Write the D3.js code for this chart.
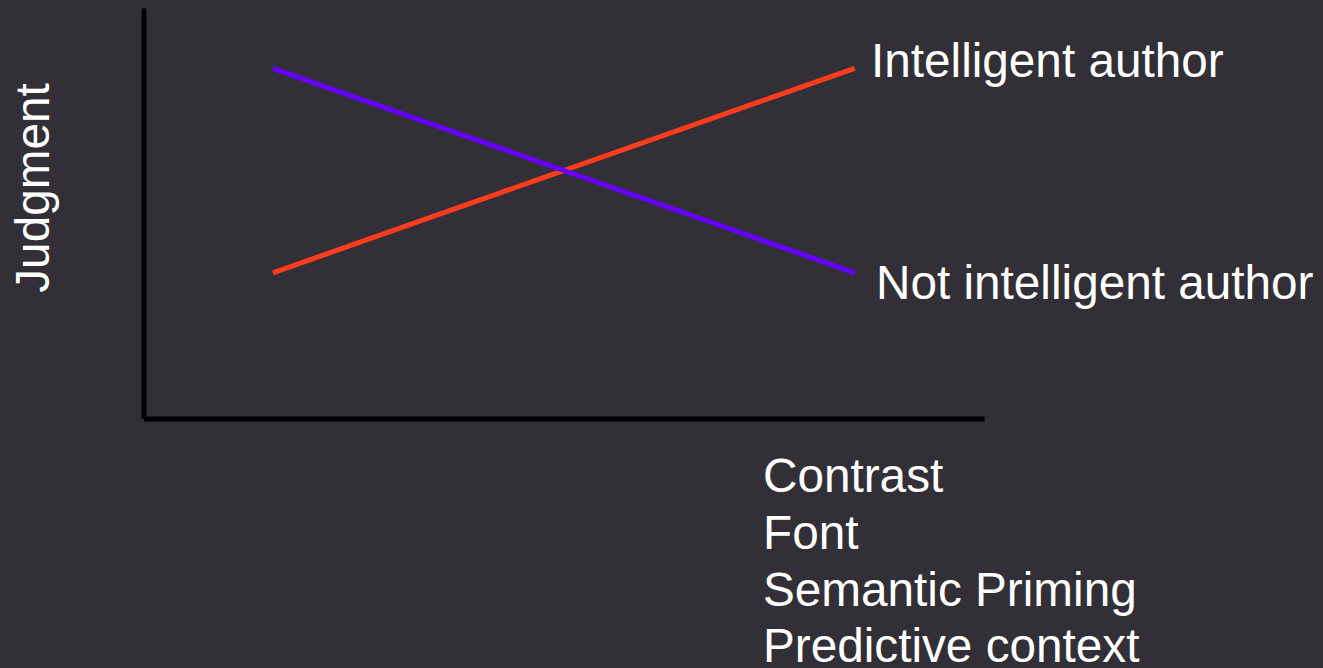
<!DOCTYPE html>
<html>
<head>
<meta charset="utf-8">
<script src="https://cdn.jsdelivr.net/npm/d3@7"></script>
<style>
  html, body { margin: 0; padding: 0; background: #323036; overflow: hidden; }
  svg { display: block; font-family: "Liberation Sans", Arial, sans-serif; }
</style>
</head>
<body>
<div class="chart"></div>
<script>
// data
var levels = ["Low", "High"];
var seriesNames = ["Intelligent author", "Not intelligent author"];
var intelligent = [0.355, 0.853];
var notIntelligent = [0.853, 0.355];
var seriesColors = ["#FF3C1E", "#6600FF"];
var yLabel = "Judgment";
var factors = ["Contrast", "Font", "Semantic Priming", "Predictive context"];

var width = 1323;
var height = 668;
var plotLeft = 143.5, plotRight = 984, plotTop = 8, plotBottom = 418.5;
var fontSize = "47.7px";

var svg = d3.select(".chart")
            .append("svg")
            .attr("width", width)
            .attr("height", height);

svg.append("rect")
   .attr("width", width)
   .attr("height", height)
   .attr("fill", "#323036");

var xScale = d3.scalePoint()
               .domain(levels)
               .range([plotLeft, plotRight])
               .padding(0.2225);
var yScale = d3.scaleLinear()
               .domain([0, 1])
               .range([plotBottom, plotTop]);

var xAxis = d3.axisBottom(xScale).tickValues([]).tickSizeOuter(0);
var yAxis = d3.axisLeft(yScale).tickValues([]).tickSizeOuter(0);

// axes
svg.append("g")
   .attr("id", "y-axis")
   .attr("transform", "translate(" + plotLeft + ",0)")
   .call(yAxis)
   .select(".domain")
   .attr("stroke", "#000")
   .attr("stroke-width", 5);

svg.append("g")
   .attr("id", "x-axis")
   .attr("transform", "translate(0," + plotBottom + ")")
   .call(xAxis)
   .select(".domain")
   .attr("stroke", "#000")
   .attr("stroke-width", 5);

// lines
var line = d3.line()
             .x((d, i) => xScale(levels[i]))
             .y(d => yScale(d));

var series = [intelligent, notIntelligent];
svg.selectAll("path.series")
   .data(series)
   .enter()
   .append("path")
   .attr("class", "series")
   .attr("d", d => line(d))
   .attr("fill", "none")
   .attr("stroke", (d, i) => seriesColors[i])
   .attr("stroke-width", 5);

// line labels at the right end
var labelY = [77, 299];
svg.selectAll("text.series-label")
   .data(seriesNames)
   .enter()
   .append("text")
   .attr("class", "series-label")
   .attr("x", (d, i) => i === 0 ? 871 : 876)
   .attr("y", (d, i) => labelY[i])
   .attr("fill", "#fff")
   .style("font-size", fontSize)
   .text(d => d);

// y label
svg.append("text")
   .attr("transform", "translate(49,188) rotate(-90)")
   .attr("text-anchor", "middle")
   .attr("fill", "#fff")
   .style("font-size", fontSize)
   .text(yLabel);

// factor list under the x axis
svg.selectAll("text.factor")
   .data(factors)
   .enter()
   .append("text")
   .attr("class", "factor")
   .attr("x", 763)
   .attr("y", (d, i) => 492 + i * 56.8)
   .attr("fill", "#fff")
   .style("font-size", fontSize)
   .text(d => d);
</script>
</body>
</html>
